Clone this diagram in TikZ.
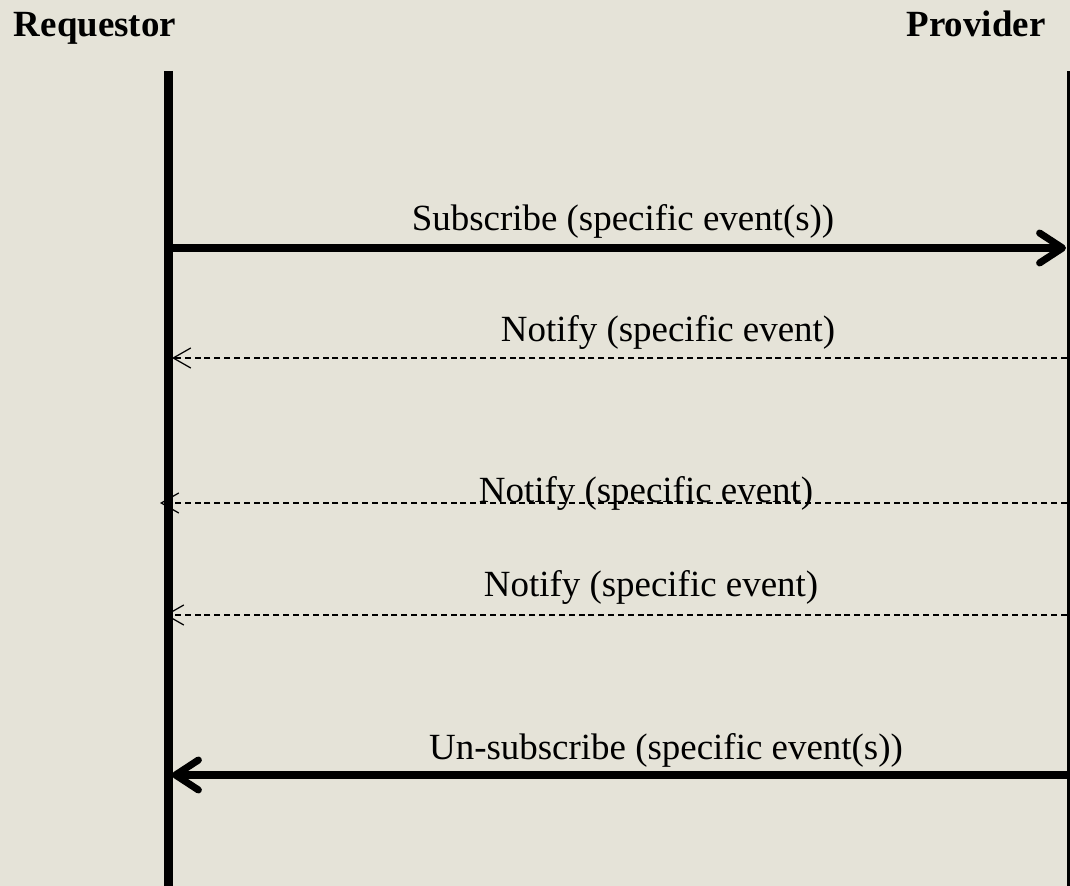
\documentclass[tikz,border=0pt]{standalone}
\usepackage{fontspec}
\setmainfont{Liberation Serif}
\usepackage{xcolor}
\usepackage{tikz}
\usetikzlibrary{arrows.meta}
\definecolor{paper}{RGB}{229,227,216}

\begin{document}
\begin{tikzpicture}[x=0.01cm,y=-0.01cm,
  life/.style={line width=2.4pt},
  call/.style={line width=2pt,-{Straight Barb[length=6.5pt,width=8.5pt,round]}},
  reply/.style={line width=0.35pt,dash pattern=on 1.7pt off 1.1pt,-{Straight Barb[length=5pt,width=5.7pt]}},
  msg/.style={inner sep=0pt,anchor=base,font=\fontsize{10.5}{12}\selectfont},
  who/.style={inner sep=0pt,anchor=base,font=\fontsize{10.5}{12}\selectfont\bfseries}]
\fill[paper] (0,0) rectangle (1070,886);
\useasboundingbox (0,0) rectangle (1070,886);

\node[who] (req)  at (95,37)  {Requestor};
\node[who] (prov) at (976,37) {Provider};

\coordinate (req top)  at (168.5,71);
\coordinate (req bot)  at (168.5,886);
\coordinate (prov top) at (1071,71);
\coordinate (prov bot) at (1071,886);
\draw[life] (req top)--(req bot);
\draw[life] (prov top)--(prov bot);

\coordinate (sub l)   at (172,248);  \coordinate (sub r)   at (1066,248);
\coordinate (ntfa l)  at (172,358);  \coordinate (ntfa r)  at (1067,358);
\coordinate (ntfb l)  at (160,503);  \coordinate (ntfb r)  at (1067,503);
\coordinate (ntfc l)  at (165,615);  \coordinate (ntfc r)  at (1067,615);
\coordinate (unsub l) at (172,775);  \coordinate (unsub r) at (1067,775);

\draw[call]  (sub l)--(sub r);
\draw[reply] (ntfa r)--(ntfa l);
\draw[reply] (ntfb r)--(ntfb l);
\draw[reply] (ntfc r)--(ntfc l);
\draw[call]  (unsub r)--(unsub l);

\node[msg] (sub txt)   at (623,231) {Subscribe (specific event(s))};
\node[msg] (ntfa txt)  at (668,342) {Notify (specific event)};
\node[msg] (ntfb txt)  at (646,503) {Notify (specific event)};
\node[msg] (ntfc txt)  at (651,597) {Notify (specific event)};
\node[msg] (unsub txt) at (666,760) {Un-subscribe (specific event(s))};

\end{tikzpicture}
\end{document}
